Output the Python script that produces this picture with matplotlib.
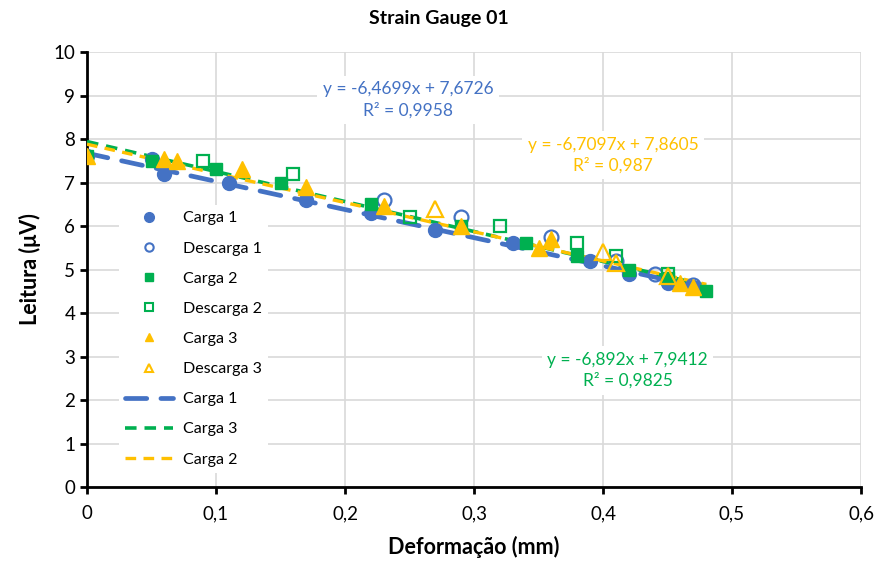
import numpy as np
import matplotlib.pyplot as plt
from matplotlib.lines import Line2D

plt.rcParams['font.family'] = ['Lato', 'DejaVu Sans']

# data
c1_x = [0.0, 0.05, 0.06, 0.11, 0.17, 0.22, 0.27, 0.33, 0.39, 0.42, 0.45, 0.47]
c1_y = [7.6, 7.55, 7.2, 7.0, 6.6, 6.3, 5.9, 5.6, 5.2, 4.9, 4.7, 4.6]
d1_x = [0.23, 0.29, 0.36, 0.41, 0.44, 0.47]
d1_y = [6.6, 6.2, 5.75, 5.2, 4.9, 4.65]
c2_x = [0.0, 0.05, 0.10, 0.15, 0.22, 0.29, 0.34, 0.38, 0.42, 0.45, 0.48]
c2_y = [7.6, 7.5, 7.3, 7.0, 6.5, 6.0, 5.6, 5.3, 5.0, 4.8, 4.5]
d2_x = [0.09, 0.16, 0.25, 0.32, 0.38, 0.41, 0.45]
d2_y = [7.5, 7.2, 6.2, 6.0, 5.6, 5.3, 4.9]
c3_x = [0.0, 0.06, 0.07, 0.12, 0.17, 0.23, 0.29, 0.35, 0.36, 0.46, 0.47]
c3_y = [7.6, 7.55, 7.5, 7.3, 6.9, 6.45, 6.0, 5.5, 5.7, 4.7, 4.6]
d3_x = [0.27, 0.40, 0.41, 0.45]
d3_y = [6.4, 5.4, 5.15, 4.85]

# trend lines (from the equations shown on the chart): slope, intercept, last x
fit1 = (-6.4699, 7.6726, 0.47)
fit3 = (-6.892, 7.9412, 0.48)
fit2 = (-6.7097, 7.8605, 0.48)

blue = '#4472C4'
green = '#00B050'
yellow = '#FFC000'

fig = plt.figure(figsize=(8.77, 5.64), dpi=100)
ax = fig.add_axes([0.0992, 0.1365, 0.8826, 0.7713])

def trend(p):
    xs = np.array([0.0, p[2]])
    return xs, p[0] * xs + p[1]

x, y = trend(fit1)
ax.plot(x, y, color=blue, lw=3.4, dashes=(4.5, 3.0), dash_capstyle='round', zorder=3)
x, y = trend(fit3)
ax.plot(x, y, color=green, lw=2.6, dashes=(3.2, 2.2), zorder=3)
x, y = trend(fit2)
ax.plot(x, y + 0.02, color=yellow, lw=2.4, dashes=(3.2, 2.2), zorder=3)

ax.plot(c1_x, c1_y, 'o', color=blue, ms=10, zorder=4)
ax.plot(d1_x, d1_y, 'o', mfc='none', mec=blue, mew=1.6, ms=10, zorder=4)
ax.plot(c2_x, c2_y, 's', color=green, ms=8.5, zorder=4)
ax.plot(d2_x, d2_y, 's', mfc='none', mec=green, mew=1.6, ms=8.5, zorder=4)
ax.plot(c3_x, c3_y, '^', color=yellow, ms=11, zorder=4)
ax.plot(d3_x, d3_y, '^', mfc='none', mec=yellow, mew=1.6, ms=11, zorder=4)

ax.set_xlim(0, 0.6)
ax.set_ylim(0, 10)
ax.set_xticks(np.arange(0, 0.61, 0.1))
ax.set_xticklabels(['0', '0,1', '0,2', '0,3', '0,4', '0,5', '0,6'])
ax.set_yticks(range(0, 11))
ax.grid(True, color='#D9D9D9', lw=1.2)
ax.set_axisbelow(True)
for s in ['top', 'right']:
    ax.spines[s].set_visible(False)
for s in ['left', 'bottom']:
    ax.spines[s].set_color('black')
    ax.spines[s].set_linewidth(2)
ax.tick_params(axis='both', labelsize=13.5, width=2, length=5, color='black')
ax.tick_params(axis='x', pad=8)

ax.set_xlabel('Deformação (mm)', fontsize=15.5, fontweight='bold', labelpad=10)
ax.set_ylabel('Leitura (μV)', fontsize=15.5, fontweight='bold', labelpad=9)
fig.suptitle('Strain Gauge 01', fontsize=14, fontweight='bold', x=0.5, y=0.982)

box = dict(facecolor='white', edgecolor='none', pad=4)
ax.text(0.249, 8.9, 'y = -6,4699x + 7,6726\nR² = 0,9958', color=blue, fontsize=12.5,
        ha='center', va='center', linespacing=1.35, bbox=box)
ax.text(0.408, 7.63, 'y = -6,7097x + 7,8605\nR² = 0,987', color=yellow, fontsize=12.5,
        ha='center', va='center', linespacing=1.35, bbox=box)
ax.text(0.419, 2.68, 'y = -6,892x + 7,9412\nR² = 0,9825', color=green, fontsize=12.5,
        ha='center', va='center', linespacing=1.35, bbox=box)

handles = [
    Line2D([], [], ls='none', marker='o', color=blue, ms=7),
    Line2D([], [], ls='none', marker='o', mfc='none', mec=blue, mew=1.5, ms=6),
    Line2D([], [], ls='none', marker='s', color=green, ms=6),
    Line2D([], [], ls='none', marker='s', mfc='none', mec=green, mew=1.5, ms=6),
    Line2D([], [], ls='none', marker='^', color=yellow, ms=6),
    Line2D([], [], ls='none', marker='^', mfc='none', mec=yellow, mew=1.5, ms=6),
    Line2D([], [], color=blue, lw=3.4, dashes=(4.5, 3.0), dash_capstyle='round'),
    Line2D([], [], color=green, lw=2.6, dashes=(3.2, 2.2)),
    Line2D([], [], color=yellow, lw=2.4, dashes=(3.2, 2.2)),
]
labels = ['Carga 1', 'Descarga 1', 'Carga 2', 'Descarga 2', 'Carga 3', 'Descarga 3',
          'Carga 1', 'Carga 3', 'Carga 2']
leg = ax.legend(handles, labels, loc='upper left', bbox_to_anchor=(0.031, 0.667),
                frameon=True, facecolor='white', edgecolor='none', framealpha=1,
                fontsize=11.5, labelspacing=1.0, handlelength=3.0, handletextpad=0.6)
leg.set_zorder(5)

fig.savefig('out.png', dpi=100)
